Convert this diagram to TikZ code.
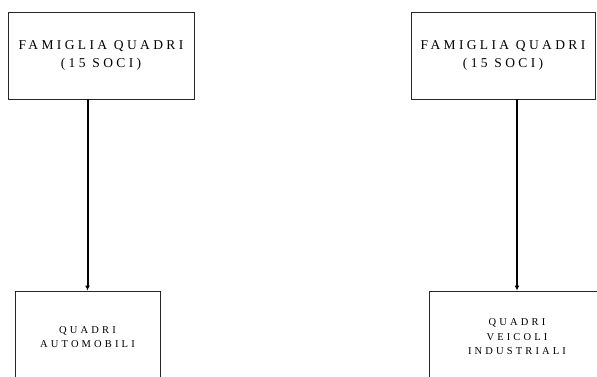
\documentclass[tikz,border=0pt]{standalone}
\usepackage{fontspec}
\setmainfont{Liberation Serif}
\newfontfamily\spacedfont[LetterSpace=25]{Liberation Serif}
\newfontfamily\widefont[LetterSpace=30]{Liberation Serif}
\usepackage{tikz}
\usetikzlibrary{arrows.meta, positioning}

\tikzset{
  famiglia/.style={draw=black!85, line width=0.9pt, minimum width=186pt,
    minimum height=87pt, align=center, inner sep=0pt,
    font=\spacedfont\fontsize{13.5}{18}\selectfont},
  azienda/.style={draw=black!85, line width=0.9pt, minimum height=92pt,
    align=center, inner sep=0pt,
    font=\widefont\fontsize{10.5}{14.5}\selectfont},
  freccia/.style={line width=2pt, -{Latex[length=5pt,width=5pt]}}
}

\begin{document}
\begin{tikzpicture}[x=1pt, y=-1pt]
\useasboundingbox (0,0) rectangle (597,376);

\node[famiglia] (fam1) at (101,55.5) {FAMIGLIA QUADRI\\(15 SOCI)};
\node[famiglia, minimum width=184pt] (fam2) at (503,55.5) {FAMIGLIA QUADRI\\(15 SOCI)};

\node[azienda, minimum width=145pt] (auto) at (87.5,337) {QUADRI\\AUTOMOBILI};
\node[azienda, minimum width=176pt] (veic) at (517,337) {QUADRI\\VEICOLI\\INDUSTRIALI};

\draw[freccia] (fam1.south -| auto.north) -- (auto.north);
\draw[freccia] (fam2.south -| veic.north) -- (veic.north);
\end{tikzpicture}
\end{document}
